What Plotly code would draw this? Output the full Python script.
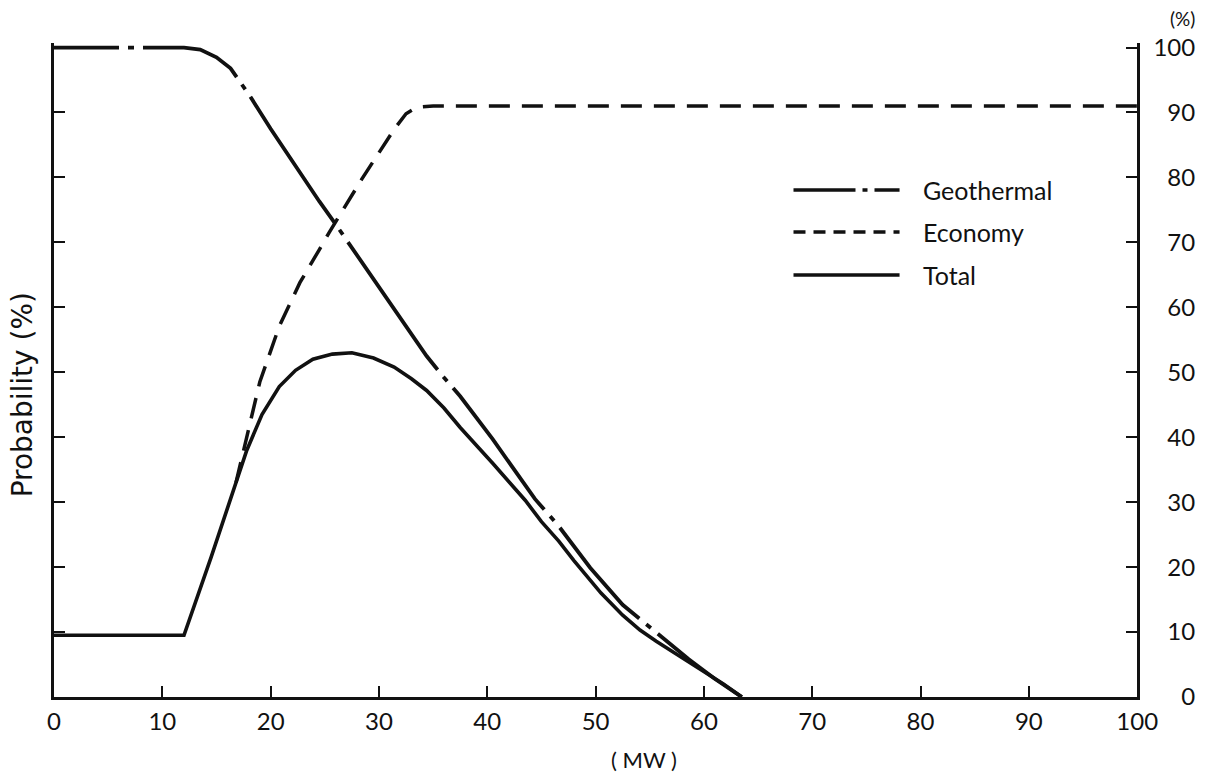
import plotly.graph_objects as go

# ---------------- data ----------------
geo_x = [0, 12, 13.5, 15, 16.3, 18.1, 20, 21.7, 23, 24.5, 26, 27.5, 29.5, 31.4, 33, 34.4,
         36, 37.5, 40.5, 42.5, 44.4, 46.6, 49.5, 52.5, 55.6, 58.6, 61, 63.5]
geo_y = [100, 100, 99.7, 98.5, 96.8, 92.5, 87.5, 83.2, 80, 76.3, 72.8, 69.2, 64.5, 59.7, 56, 52.5,
         49.2, 46.3, 39.7, 35, 30.5, 26.3, 19.9, 14.2, 9.9, 5.8, 2.8, 0]

eco_x = [16.8, 17.5, 19, 20.8, 22.7, 24.5, 25.4, 28.4, 31.4, 32.5, 33.5, 35, 100]
eco_y = [33, 38, 48.5, 57.1, 63.8, 68.9, 71.5, 79.7, 87.4, 89.8, 90.8, 91, 91]

tot_x = [0, 12, 14.5, 16, 17.8, 19.2, 20.8, 22.3, 23.9, 25.7, 27.5, 29.5, 31.4, 33, 34.4, 36,
         37.5, 40.5, 43.5, 45, 46.6, 48, 50.5, 52.5, 54.1, 55.6, 57.1, 58.6, 60.1, 61.8, 63.5]
tot_y = [9.5, 9.5, 21.5, 29, 38, 43.5, 47.8, 50.3, 52, 52.8, 53, 52.2, 50.8, 49, 47.2, 44.5,
         41.5, 36, 30.3, 27, 24, 21, 16, 12.6, 10.3, 8.6, 7, 5.5, 3.8, 2, 0]

x_ticks = [0, 10, 20, 30, 40, 50, 60, 70, 80, 90, 100]
y_ticks = [0, 10, 20, 30, 40, 50, 60, 70, 80, 90, 100]
series_names = ["Geothermal", "Economy", "Total"]

# ---------------- styling ----------------
FONT = "Lato, 'DejaVu Sans', sans-serif"
INK = "#111111"
GEO_DASH = ("65px,9px,6px,9px,104px,9px,6px,9px,151px,9px,6px,9px,"
            "156px,9px,6px,9px,152px,9px,6px,9px,121px,9px,6px,9px,600px,4px")
ECO_DASH = "21px,12px"

fig = go.Figure()
fig.add_trace(go.Scatter(x=geo_x, y=geo_y, mode="lines", name=series_names[0],
                         line=dict(color=INK, width=3.8, dash=GEO_DASH), showlegend=False))
fig.add_trace(go.Scatter(x=eco_x, y=eco_y, mode="lines", name=series_names[1], yaxis="y2",
                         line=dict(color=INK, width=3.5, dash=ECO_DASH), showlegend=False))
fig.add_trace(go.Scatter(x=tot_x, y=tot_y, mode="lines", name=series_names[2],
                         line=dict(color=INK, width=3.6), showlegend=False))

YR = [0, 100.7]
fig.update_layout(
    width=1229, height=779, autosize=False,
    margin=dict(l=54, r=5, t=43, b=82),
    paper_bgcolor="white", plot_bgcolor="white",
    font=dict(family=FONT, color=INK, size=24),
    xaxis=dict(domain=[0, 0.9427], range=[0, 100], showgrid=False, zeroline=False,
               showline=True, linewidth=3, linecolor=INK,
               ticks="inside", ticklen=11, tickwidth=2, tickcolor=INK,
               tickvals=x_ticks, ticktext=[str(v) for v in x_ticks],
               tickfont=dict(family=FONT, size=24, color=INK), ticklabelstandoff=1),
    yaxis=dict(range=YR, showgrid=False, zeroline=False, showline=True, linewidth=3,
               linecolor=INK, mirror="ticks", ticks="inside", ticklen=11, tickwidth=2,
               tickcolor=INK, tickvals=y_ticks[1:], showticklabels=False),
    yaxis2=dict(range=YR, overlaying="y", side="left", anchor="free", position=0.9932,
                showgrid=False, zeroline=False, showline=False, ticks="",
                tickvals=y_ticks, ticktext=[str(v) for v in y_ticks],
                tickfont=dict(family=FONT, size=24, color=INK)),
)

# axis titles / units
fig.add_annotation(text="Probability (%)", xref="paper", yref="paper", x=-0.0274, y=0.462,
                   textangle=-90, showarrow=False, xanchor="center", yanchor="middle",
                   font=dict(family="'DejaVu Sans', sans-serif", size=28, color=INK))
fig.add_annotation(text="( MW )", xref="paper", yref="paper", x=0.5137, y=-0.0963,
                   xanchor="center", yanchor="middle",
                   showarrow=False, font=dict(family=FONT, size=22, color=INK))
fig.add_annotation(text="(%)", xref="paper", yref="paper", x=0.9949, y=1.0382,
                   xanchor="right", yanchor="middle",
                   showarrow=False, font=dict(family=FONT, size=19, color=INK))

# legend (keys drawn as line shapes, labels as text)
legend_rows = [0.7752, 0.7110, 0.6453]
legend_dashes = ["62px,7px,5px,7px", "12px,8px", "solid"]
for name, yy, dsh in zip(series_names, legend_rows, legend_dashes):
    fig.add_shape(type="line", xref="paper", yref="paper", x0=0.6436, x1=0.7359, y0=yy, y1=yy,
                  line=dict(color=INK, width=3.5, dash=dsh))
    fig.add_annotation(text=name, xref="paper", yref="paper", x=0.7547, y=yy, xanchor="left",
                       yanchor="middle", showarrow=False, font=dict(family=FONT, size=25, color=INK))

fig.write_html("out.html")
